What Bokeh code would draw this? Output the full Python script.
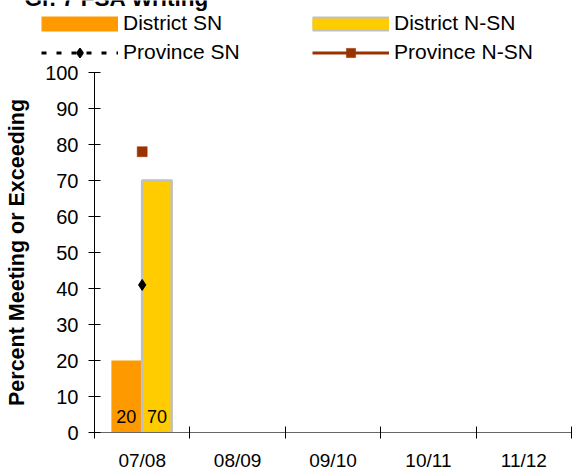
import numpy as np
from bokeh.plotting import figure
from bokeh.layouts import column
from bokeh.models import Range1d, FixedTicker, Legend, LegendItem, Label
from bokeh.core.properties import value
from bokeh.embed import file_html
from bokeh.resources import INLINE

# ---- data ----
title_text = "Gr. 7 FSA Writing"
years = ["07/08", "08/09", "09/10", "10/11", "11/12"]
district_sn = [20, None, None, None, None]
district_nsn = [70, None, None, None, None]
province_sn = [41, None, None, None, None]
province_nsn = [78, None, None, None, None]
y_ticks = [0, 10, 20, 30, 40, 50, 60, 70, 80, 90, 100]
y_label = "Percent Meeting or Exceeding"
series_names = ["District SN", "District N-SN", "Province SN", "Province N-SN"]

FONT = "Liberation Sans"
C_DSN, C_DNSN, C_BORDER, C_PNSN = "#FF9900", "#FFCC00", "#C0C0C0", "#993300"


def to_arr(v):
    return np.array([np.nan if a is None else a for a in v], dtype=float)


centers = np.arange(len(years)) + 0.5
bounds = np.arange(len(years) + 1)

ds = to_arr(district_sn)
dn = to_arr(district_nsn)
ps = to_arr(province_sn)
pn = to_arr(province_nsn)

# ---------------- legend strip (top) ----------------
W = 577
TOP_H = 64
top = figure(width=W, height=TOP_H, x_range=Range1d(0, 1), y_range=Range1d(0, 1),
             x_axis_type=None, y_axis_type=None, output_backend="svg", toolbar_location=None,
             min_border=0, min_border_left=0, min_border_right=0, min_border_top=0,
             min_border_bottom=0, outline_line_color=None, frame_align=False,
             background_fill_color="white", border_fill_color="white")
top.xgrid.visible = False
top.ygrid.visible = False

nan = [np.nan]
sw_o = top.line(x=nan, y=nan, line_color=C_DSN, line_width=15)
sw_g = top.line(x=nan, y=nan, line_color=C_BORDER, line_width=15)
sw_y = top.line(x=nan, y=nan, line_color=C_DNSN, line_width=11)
sw_l1 = top.line(x=nan, y=nan, line_color="black", line_width=3, line_dash="5 10")
sw_m1 = top.scatter(x=nan, y=nan, marker="diamond", size=11, fill_color="black",
                    line_color="black", line_width=1.5)
sw_l2 = top.line(x=nan, y=nan, line_color=C_PNSN, line_width=3)
sw_m2 = top.scatter(x=nan, y=nan, marker="square", size=10, fill_color=C_PNSN,
                    line_color=C_PNSN, line_width=0.5)

# column-major order: column 1 = District SN / Province SN, column 2 = N-SN pair
legend = Legend(items=[
    LegendItem(label=series_names[0], renderers=[sw_o]),
    LegendItem(label=series_names[2], renderers=[sw_l1, sw_m1]),
    LegendItem(label=series_names[1], renderers=[sw_g, sw_y]),
    LegendItem(label=series_names[3], renderers=[sw_l2, sw_m2]),
], ncols=2, location=(41, 0), glyph_width=77, glyph_height=23, label_height=23,
    label_width=184, label_standoff=5, spacing=5, padding=0, margin=0,
    border_line_color=None, background_fill_alpha=0,
    label_text_font=FONT, label_text_font_size="21px", label_text_color="black")
top.add_layout(legend)

# title, cut off at the top edge as in the reference
top.add_layout(Label(x=24, y=TOP_H + 2, x_units="screen", y_units="screen", text=title_text,
                     text_font=FONT, text_font_style="bold", text_font_size="22.5px",
                     text_baseline="alphabetic", text_color="black"))

# ---------------- chart ----------------
p = figure(width=W, height=473 - TOP_H, x_range=Range1d(0, len(years)), y_range=Range1d(0, 100),
           output_backend="svg", toolbar_location=None, frame_align=False,
           min_border_left=94, min_border_right=6, min_border_top=8, min_border_bottom=37,
           background_fill_color="white", border_fill_color="white")
p.outline_line_color = None
p.xgrid.visible = False
p.ygrid.visible = False

m1 = ~np.isnan(ds)
p.vbar(x=centers[m1] - 0.167, top=ds[m1], width=0.312, bottom=0,
       fill_color=C_DSN, line_color=None)
m2 = ~np.isnan(dn)
p.vbar(x=centers[m2] + 0.154, top=dn[m2], width=0.31, bottom=0,
       fill_color=C_DNSN, line_color=C_BORDER, line_width=2.5)

p.text(x=centers[m1] - 0.167, y=np.zeros(m1.sum()), text=[str(int(v)) for v in ds[m1]],
       text_align="center", text_baseline="alphabetic", y_offset=-16,
       text_font=value(FONT), text_font_size="18px", text_color="black")
p.text(x=centers[m2] + 0.154, y=np.zeros(m2.sum()), text=[str(int(v)) for v in dn[m2]],
       text_align="center", text_baseline="alphabetic", y_offset=-16,
       text_font=value(FONT), text_font_size="18px", text_color="black")

p.line(x=centers, y=ps, line_color="black", line_width=3, line_dash="5 10")
p.scatter(x=centers, y=ps, marker="diamond", size=11, fill_color="black",
          line_color="black", line_width=1)
p.line(x=centers, y=pn, line_color=C_PNSN, line_width=3)
p.scatter(x=centers, y=pn, marker="square", size=10, fill_color=C_PNSN,
          line_color=C_PNSN, line_width=0.5)

xa = p.xaxis[0]
xa.ticker = FixedTicker(ticks=list(centers), minor_ticks=list(bounds))
xa.major_label_overrides = {float(c): y for c, y in zip(centers, years)}
xa.major_tick_line_color = None
xa.major_tick_in = 6
xa.major_tick_out = 6
xa.minor_tick_line_color = "black"
xa.minor_tick_in = 6
xa.minor_tick_out = 6
xa.axis_line_color = "#666666"
xa.major_label_standoff = 11
xa.major_label_text_font = FONT
xa.major_label_text_font_size = "19px"
xa.major_label_text_color = "black"

ya = p.yaxis[0]
ya.ticker = FixedTicker(ticks=y_ticks)
ya.major_tick_in = 6
ya.major_tick_out = 6
ya.major_tick_line_color = "black"
ya.minor_tick_line_color = None
ya.axis_line_color = "black"
ya.major_label_standoff = 10
ya.major_label_text_font = FONT
ya.major_label_text_font_size = "20px"
ya.major_label_text_color = "black"
ya.axis_label = y_label
ya.axis_label_text_font = FONT
ya.axis_label_text_font_style = "bold"
ya.axis_label_text_font_size = "21.5px"
ya.axis_label_text_color = "black"
ya.axis_label_standoff = 13

layout = column(top, p, spacing=0)
open("out.html", "w").write(file_html(layout, INLINE))
